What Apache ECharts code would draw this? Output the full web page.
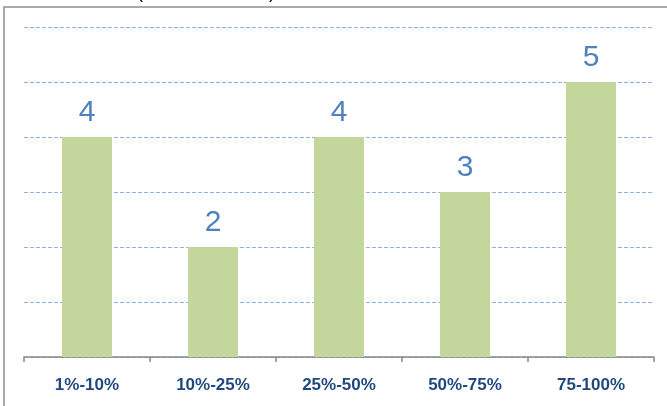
<!DOCTYPE html>
<html>
<head>
<meta charset="utf-8">
<script src="https://cdn.jsdelivr.net/npm/echarts@6/dist/echarts.min.js"></script>
<style>
  html, body { margin: 0; padding: 0; background: #fff; }
  #chart { width: 667px; height: 406px; }
</style>
</head>
<body>
<div id="chart"></div>
<script>
// Completion ranges and project counts
const categories = ['1%-10%', '10%-25%', '25%-50%', '50%-75%', '75-100%'];
const counts = [4, 2, 4, 3, 5];
const yTicks = [0, 1, 2, 3, 4, 5, 6];

const chart = echarts.init(document.getElementById('chart'), null, { renderer: 'canvas' });

chart.setOption({
  animation: false,
  backgroundColor: '#ffffff',
  grid: { left: 24, right: 13, top: 27, bottom: 49 },
  graphic: [
    {
      type: 'rect',
      shape: { x: 4, y: 7, width: 720, height: 480 },
      style: { fill: 'none', stroke: '#8e8e8e', lineWidth: 1.5 },
      silent: true
    },
    {
      type: 'text', left: 137, top: -16,
      style: { text: '(', font: '18px "Liberation Sans"', fill: '#000' }
    },
    {
      type: 'text', left: 269, top: -16,
      style: { text: ')', font: '18px "Liberation Sans"', fill: '#000' }
    }
  ],
  xAxis: {
    type: 'category',
    data: categories,
    axisLine: { lineStyle: { color: '#868686', width: 1.5 } },
    axisTick: { show: true, length: 5, lineStyle: { color: '#868686', width: 1.5 } },
    axisLabel: {
      margin: 20,
      color: '#1F497D',
      fontFamily: 'Liberation Sans',
      fontWeight: 'bold',
      fontSize: 17
    }
  },
  yAxis: {
    type: 'value',
    min: yTicks[0],
    max: yTicks[yTicks.length - 1],
    interval: 1,
    axisLine: { show: false },
    axisTick: { show: false },
    axisLabel: { show: false },
    splitLine: {
      show: true,
      lineStyle: { color: '#8DB3E2', type: [4, 2], width: 1 }
    }
  },
  series: [{
    type: 'bar',
    data: counts,
    barWidth: 50,
    itemStyle: { color: '#C3D69B' },
    label: {
      show: true,
      position: 'top',
      distance: 9,
      color: '#4F81BD',
      fontFamily: 'Liberation Sans',
      fontSize: 30
    }
  }]
});
</script>
</body>
</html>
